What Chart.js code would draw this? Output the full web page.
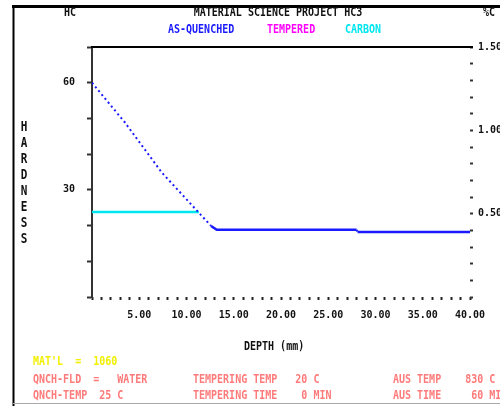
<!DOCTYPE html>
<html>
<head>
<meta charset="utf-8">
<script src="https://cdn.jsdelivr.net/npm/chart.js@4/dist/chart.umd.min.js"></script>
<style>
  html, body { margin: 0; padding: 0; background: #fff; }
  canvas { display: block; }
</style>
</head>
<body>
<canvas id="c" width="500" height="406"></canvas>
<script>
// Hardness profile (HRC) against depth (mm)
const depthQuenched    = [0, 3.5, 7.4, 12.6, 13.2, 28.0, 28.1, 40];
const hardnessQuenched = [60, 48.8, 34.8, 19.9, 18.8, 18.8, 18.2, 18.2];
const depthTempered    = [];
const hardnessTempered = [];
// Carbon content (%C) against depth (mm)
const depthCarbon = [0, 11.3];
const carbonPct   = [0.51, 0.51];

const seriesNames  = ['AS-QUENCHED', 'TEMPERED', 'CARBON'];
const seriesColors = ['#1a1aff', '#ff00ff', '#00e6f0'];

const depthLabelTicks    = [5, 10, 15, 20, 25, 30, 35, 40];
const hardnessLabelTicks = [30, 60];
const carbonLabelTicks   = [0.5, 1.0, 1.5];

const titleText  = 'MATERIAL SCIENCE PROJECT HC3';
const xTitle     = 'DEPTH (mm)';
const yTitle     = 'HARDNESS';
const yUnit      = 'HC';
const y2Unit     = '%C';
const materialLine = "MAT'L  =  1060";
const quenchLines    = ['QNCH-FLD  =   WATER', 'QNCH-TEMP  25 C'];
const temperingLines = ['TEMPERING TEMP   20 C', 'TEMPERING TIME    0 MIN'];
const austenLines    = ['AUS TEMP    830 C', 'AUS TIME     60 MIN'];

const FONT = '"DejaVu Sans Mono", "Liberation Mono", monospace';

const toXY = (xs, ys) => xs.map((x, i) => ({ x: x, y: ys[i] }));
const steep = ctx => Math.abs(ctx.p1.y - ctx.p0.y) > Math.abs(ctx.p1.x - ctx.p0.x);

function drawText(ctx, str, x, y, color, align, size, sy) {
  ctx.save();
  ctx.font = 'bold ' + (size || 10) + 'px ' + FONT;
  ctx.fillStyle = color;
  ctx.textAlign = align || 'left';
  ctx.textBaseline = 'middle';
  ctx.translate(x, y);
  ctx.scale(1, sy || 1.25);
  ctx.fillText(str, 0, 0);
  ctx.restore();
}

const decorations = {
  id: 'decorations',
  afterDraw(chart) {
    const ctx = chart.ctx;
    const area = chart.chartArea;
    ctx.save();
    // window frame
    ctx.strokeStyle = '#000';
    ctx.lineWidth = 3;
    ctx.beginPath(); ctx.moveTo(12, 6.5); ctx.lineTo(500, 6.5); ctx.stroke();
    ctx.lineWidth = 2;
    ctx.beginPath(); ctx.moveTo(13.5, 5); ctx.lineTo(13.5, 406); ctx.stroke();
    ctx.strokeStyle = '#aaa';
    ctx.lineWidth = 1;
    ctx.beginPath(); ctx.moveTo(13, 403.5); ctx.lineTo(500, 403.5); ctx.stroke();
    // top edge of the plot
    ctx.strokeStyle = '#000';
    ctx.lineWidth = 2;
    ctx.beginPath(); ctx.moveTo(area.left - 1, area.top); ctx.lineTo(area.right + 3, area.top); ctx.stroke();
    ctx.restore();

    drawText(ctx, titleText, 278, 13, '#111', 'center');
    drawText(ctx, yUnit, 64, 13, '#111', 'left');
    drawText(ctx, y2Unit, 483, 13, '#111', 'left');

    // legend row
    const legendX = [168, 267, 345];
    seriesNames.forEach((name, i) => {
      const ds = chart.data.datasets.find(d => d.label === name);
      drawText(ctx, name, legendX[i], 30, ds.borderColor, 'left');
    });

    // stacked vertical axis title
    for (let i = 0; i < yTitle.length; i++) {
      drawText(ctx, yTitle[i], 24, 127 + i * 16, '#111', 'center', 11, 1.3);
    }
    drawText(ctx, xTitle, 244, 347, '#111', 'left');

    drawText(ctx, materialLine, 33, 362, '#f2f000', 'left');
    const rows = [380, 396];
    rows.forEach((y, i) => {
      drawText(ctx, quenchLines[i], 33, y, '#ff7a7a', 'left');
      drawText(ctx, temperingLines[i], 193, y, '#ff7a7a', 'left');
      drawText(ctx, austenLines[i], 393, y, '#ff7a7a', 'left');
    });
  }
};

const tickFont = { family: FONT, size: 10, weight: 'bold' };

new Chart(document.getElementById('c'), {
  type: 'line',
  data: {
    datasets: [
      {
        label: seriesNames[1],
        data: toXY(depthTempered, hardnessTempered),
        borderColor: seriesColors[1],
        borderWidth: 2.5,
        yAxisID: 'y'
      },
      {
        label: seriesNames[0],
        data: toXY(depthQuenched, hardnessQuenched),
        borderColor: seriesColors[0],
        borderWidth: 2.5,
        yAxisID: 'y',
        segment: {
          borderDash: ctx => steep(ctx) ? [2, 3] : undefined,
          borderWidth: ctx => steep(ctx) ? 2 : 2.5
        }
      },
      {
        label: seriesNames[2],
        data: toXY(depthCarbon, carbonPct),
        borderColor: seriesColors[2],
        borderWidth: 2.5,
        yAxisID: 'y2'
      }
    ]
  },
  options: {
    responsive: false,
    animation: false,
    devicePixelRatio: 1,
    layout: { padding: { top: 47, left: 0, right: 0, bottom: 0 } },
    plugins: { legend: { display: false }, tooltip: { enabled: false }, title: { display: false } },
    elements: { point: { radius: 0 }, line: { tension: 0 } },
    scales: {
      x: {
        type: 'linear', position: 'bottom', min: 0, max: 40,
        afterFit: s => { s.height = 109; },
        ticks: {
          stepSize: 1, autoSkip: false, maxRotation: 0, minRotation: 0, padding: 9,
          color: '#111', font: tickFont,
          callback: v => depthLabelTicks.includes(v) ? v.toFixed(2) : ''
        },
        grid: { drawOnChartArea: false, tickLength: 3, tickWidth: 2, tickColor: '#222' },
        border: { display: false }
      },
      y: {
        position: 'left', min: 0, max: 70,
        afterFit: s => { s.width = 92; },
        ticks: {
          stepSize: 10, padding: 12, color: '#111', font: tickFont,
          callback: v => hardnessLabelTicks.includes(v) ? String(v) : ''
        },
        grid: { drawOnChartArea: false, tickLength: 5, tickWidth: 2, tickColor: '#333' },
        border: { display: true, color: '#333', width: 2 }
      },
      y2: {
        position: 'right', min: 0, max: 1.5,
        afterFit: s => { s.width = 30; },
        ticks: {
          stepSize: 0.1, padding: 5, color: '#111', font: tickFont,
          callback: v => carbonLabelTicks.some(t => Math.abs(t - v) < 1e-6) ? v.toFixed(2) : ''
        },
        grid: { drawOnChartArea: false, tickLength: 3, tickWidth: 2, tickColor: '#333' },
        border: { display: false }
      }
    }
  },
  plugins: [decorations]
});
</script>
</body>
</html>
